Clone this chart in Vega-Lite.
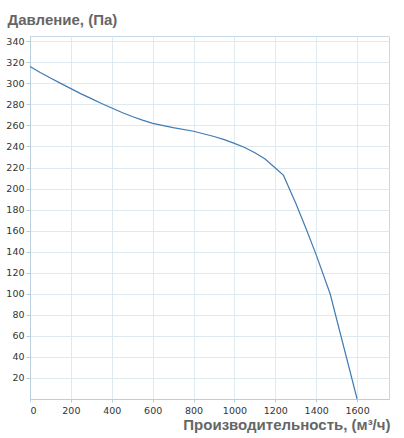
{
  "$schema": "https://vega.github.io/schema/vega-lite/v6.json",
  "autosize": "none",
  "width": 359,
  "height": 363,
  "padding": {"left": 30, "top": 36, "right": 15, "bottom": 39},
  "background": "white",
  "config": {
    "view": {"stroke": "#c9d9e3", "strokeWidth": 1},
    "axis": {
      "labelFont": "DejaVu Sans",
      "labelFontSize": 9.5,
      "labelColor": "#333333",
      "titleFont": "Liberation Sans",
      "titleFontSize": 15,
      "titleFontWeight": "bold",
      "titleColor": "#666666",
      "gridColor": "#dfe9f0",
      "gridWidth": 1,
      "domainColor": "#b9cfdd",
      "tickColor": "#b9cfdd",
      "tickSize": 4
    }
  },
  "data": {
    "values": [
      {"q": 0, "p": 316},
      {"q": 50, "p": 310.3},
      {"q": 100, "p": 305},
      {"q": 150, "p": 300},
      {"q": 200, "p": 295},
      {"q": 250, "p": 290},
      {"q": 300, "p": 285.5},
      {"q": 350, "p": 280.8},
      {"q": 400, "p": 276.5},
      {"q": 450, "p": 272.3},
      {"q": 500, "p": 268.5},
      {"q": 550, "p": 265},
      {"q": 600, "p": 262},
      {"q": 700, "p": 258},
      {"q": 800, "p": 254.5},
      {"q": 900, "p": 249.5},
      {"q": 950, "p": 246.5},
      {"q": 1000, "p": 243},
      {"q": 1050, "p": 239},
      {"q": 1100, "p": 234},
      {"q": 1150, "p": 228},
      {"q": 1200, "p": 219.5},
      {"q": 1240, "p": 212.5},
      {"q": 1300, "p": 186},
      {"q": 1350, "p": 162},
      {"q": 1400, "p": 137},
      {"q": 1468, "p": 100},
      {"q": 1600, "p": 0}
    ]
  },
  "mark": {"type": "line", "color": "#3f7bb3", "strokeWidth": 1.2},
  "encoding": {
    "x": {
      "field": "q",
      "type": "quantitative",
      "scale": {"domain": [0, 1756], "nice": false, "zero": false},
      "axis": {
        "values": [0, 200, 400, 600, 800, 1000, 1200, 1400, 1600],
        "format": "d",
        "title": "Производительность, (м³/ч)",
        "titleAlign": "right",
        "titleAnchor": null,
        "titleAngle": 0,
        "titleX": 360,
        "titleY": 30,
        "titleBaseline": "alphabetic",
        "labelPadding": 3,
        "tickSize": 3
      }
    },
    "y": {
      "field": "p",
      "type": "quantitative",
      "scale": {"domain": [0, 345], "nice": false},
      "axis": {
        "values": [20, 40, 60, 80, 100, 120, 140, 160, 180, 200, 220, 240, 260, 280, 300, 320, 340],
        "format": "d",
        "title": "Давление, (Па)",
        "titleAngle": 0,
        "titleAlign": "left",
        "titleAnchor": null,
        "titleX": -23,
        "titleY": -12,
        "titleBaseline": "alphabetic",
        "labelPadding": 2
      }
    }
  }
}
